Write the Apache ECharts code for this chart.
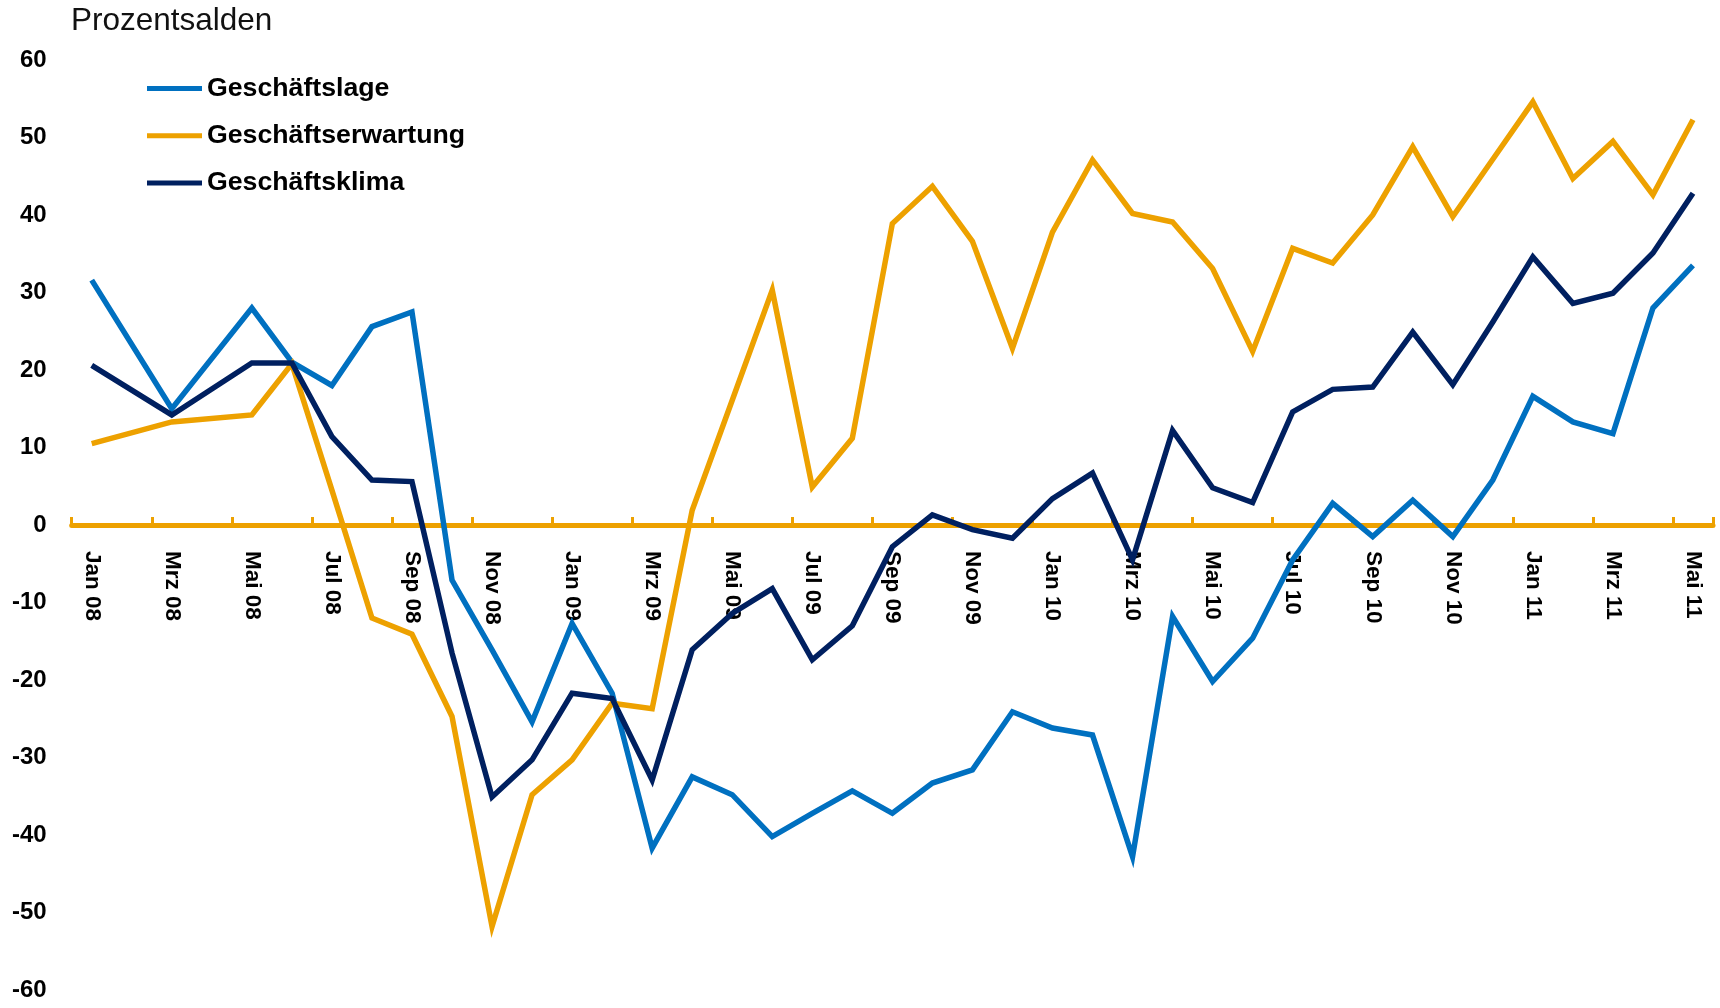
<!DOCTYPE html>
<html>
<head>
<meta charset="utf-8">
<title>Prozentsalden</title>
<script src="https://cdn.jsdelivr.net/npm/echarts@6.0.0/dist/echarts.min.js"></script>
<style>
	html, body { margin: 0; padding: 0; background: #fff; }
	#main { width: 1720px; height: 1008px; }
</style>
</head>
<body>
<div id="main"></div>
<script>
// Monate Jan 08 - Mai 11
var categories = [
	'Jan 08', 'Feb 08', 'Mrz 08', 'Apr 08', 'Mai 08', 'Jun 08', 'Jul 08', 'Aug 08', 'Sep 08', 'Okt 08', 'Nov 08', 'Dez 08',
	'Jan 09', 'Feb 09', 'Mrz 09', 'Apr 09', 'Mai 09', 'Jun 09', 'Jul 09', 'Aug 09', 'Sep 09', 'Okt 09', 'Nov 09', 'Dez 09',
	'Jan 10', 'Feb 10', 'Mrz 10', 'Apr 10', 'Mai 10', 'Jun 10', 'Jul 10', 'Aug 10', 'Sep 10', 'Okt 10', 'Nov 10', 'Dez 10',
	'Jan 11', 'Feb 11', 'Mrz 11', 'Apr 11', 'Mai 11'
];

// Feb 08 und Apr 08 ohne Wert (null)
var geschaeftslage = [
	31.6, null, 15.0, null, 28.0, 21.0, 18.0, 25.6, 27.5, -7.1, -16.1, -25.4,
	-12.7, -21.7, -41.7, -32.5, -34.8, -40.2, -37.2, -34.3, -37.2, -33.3, -31.6, -24.1,
	-26.2, -27.1, -42.8, -11.8, -20.2, -14.6, -4.5, 2.8, -1.5, 3.2, -1.5, 5.8,
	16.6, 13.3, 11.8, 28.0, 33.5
];

var geschaeftserwartung = [
	10.5, null, 13.3, null, 14.2, 20.8, 4.5, -12.0, -14.1, -24.7, -51.8, -34.8,
	-30.3, -23.0, -23.7, 1.9, 16.1, 30.3, 4.9, 11.2, 38.9, 43.7, 36.6, 22.8,
	37.8, 47.1, 40.2, 39.1, 33.1, 22.4, 35.7, 33.8, 40.0, 48.8, 39.8, 47.2,
	54.6, 44.7, 49.5, 42.6, 52.3
];

var geschaeftsklima = [
	20.6, null, 14.2, null, 20.9, 20.9, 11.4, 5.8, 5.6, -16.5, -35.1, -30.3,
	-21.7, -22.4, -32.9, -16.1, -11.4, -8.2, -17.4, -13.0, -2.8, 1.3, -0.6, -1.7,
	3.4, 6.7, -4.5, 12.2, 4.8, 2.9, 14.6, 17.5, 17.8, 24.9, 18.1, 26.2,
	34.6, 28.6, 29.9, 35.1, 42.8
];

var seriesNames = ['Geschäftslage', 'Geschäftserwartung', 'Geschäftsklima'];
var seriesColors = ['#0070C0', '#EDA100', '#002060'];
var axisColor = '#EDA100';

var fontFamily = '"Liberation Sans", Arial, sans-serif';

function get_series() {
	var datas = [geschaeftslage, geschaeftserwartung, geschaeftsklima];
	var list = [];
	for (var i = 0; i < datas.length; i++) {
		list.push({
			name : seriesNames[i],
			type : 'line',
			data : datas[i],
			symbol : 'none',
			connectNulls : true,
			lineStyle : {
				color : seriesColors[i],
				width : 5.5,
				join : 'miter'
			},
			itemStyle : {
				color : seriesColors[i]
			}
		});
	}
	return list;
}

var myChart = echarts.init(document.getElementById('main'));
var option = {
	backgroundColor : '#fff',
	animation : false,
	textStyle : {
		fontFamily : fontFamily
	},
	title : {
		text : 'Prozentsalden',
		left : 71,
		top : 5,
		padding : 0,
		textStyle : {
			fontFamily : fontFamily,
			fontSize : 31.5,
			fontWeight : 'normal',
			color : '#111'
		}
	},
	legend : {
		data : seriesNames,
		orient : 'vertical',
		left : 147,
		top : 75,
		padding : 0,
		icon : 'rect',
		itemWidth : 55,
		itemHeight : 5,
		itemGap : 20.2,
		textStyle : {
			fontFamily : fontFamily,
			fontSize : 26.7,
			fontWeight : 'bold',
			lineHeight : 26.5,
			color : '#000'
		}
	},
	grid : {
		left : 71.7,
		right : 7,
		top : 60,
		bottom : 18,
		containLabel : false,
		outerBoundsMode : 'none'
	},
	xAxis : {
		type : 'category',
		data : categories,
		boundaryGap : true,
		position : 'bottom',
		offset : 0,
		axisLine : {
			onZero : false,
			lineStyle : {
				color : axisColor,
				width : 5
			}
		},
		axisTick : {
			show : true,
			inside : true,
			length : 8,
			interval : 1,
			lineStyle : {
				color : axisColor,
				width : 3
			}
		},
		axisLabel : {
			interval : 1,
			rotate : -90,
			margin : 26,
			fontFamily : fontFamily,
			fontSize : 22.5,
			fontWeight : 'bold',
			color : '#000'
		},
		splitLine : {
			show : false
		}
	},
	yAxis : {
		type : 'value',
		min : -60,
		max : 60,
		interval : 10,
		axisLine : {
			show : false
		},
		axisTick : {
			show : false
		},
		splitLine : {
			show : false
		},
		axisLabel : {
			margin : 25,
			fontFamily : fontFamily,
			fontSize : 24,
			fontWeight : 'bold',
			color : '#000'
		}
	},
	series : get_series()
};

myChart.setOption(option);

// x-Achse mit Beschriftung auf die Nulllinie schieben
var zeroY = myChart.convertToPixel({ yAxisIndex : 0 }, 0);
var bottomY = myChart.convertToPixel({ yAxisIndex : 0 }, -60);
myChart.setOption({
	xAxis : {
		offset : zeroY - bottomY
	}
});
</script>
</body>
</html>
